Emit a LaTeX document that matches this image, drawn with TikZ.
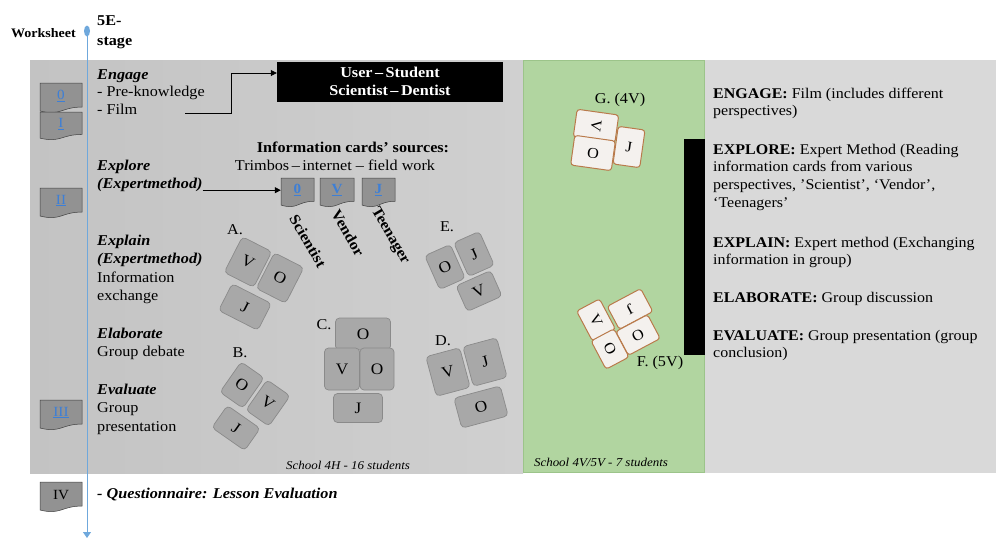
\documentclass[tikz,border=0pt]{standalone}
\usepackage{fontspec}
\usepackage{graphicx}
\setmainfont{Liberation Serif}[FakeStretch=1.08]
\usetikzlibrary{arrows.meta,calc}
\definecolor{leftgrayA}{HTML}{C3C3C3}
\definecolor{leftgrayB}{HTML}{D0D0D0}
\definecolor{rightgray}{HTML}{D9D9D9}
\definecolor{greenbg}{HTML}{B1D5A0}
\definecolor{greenedge}{HTML}{9CC48A}
\definecolor{cardgray}{HTML}{A8A8A8}
\definecolor{cardedge}{HTML}{8A8A8A}
\definecolor{docgray}{HTML}{929292}
\definecolor{linkblue}{HTML}{3D7FD6}
\definecolor{timeline}{HTML}{6FA8DC}
\definecolor{cardwhite}{HTML}{F4F1EE}
\definecolor{cardbrown}{HTML}{B97A4B}
\newcommand\docnode[6]{%
  \draw[docsty] (#2,#3) -- ({#2+#4},#3) -- ({#2+#4},{#3+0.802*#5})
    .. controls ({#2+0.5*#4},{#3+0.802*#5}) and ({#2+0.5*#4},{#3+1.107*#5}) .. (#2,{#3+0.934*#5}) -- cycle;
  \node[doctext, minimum width=#4, minimum height={0.8*#5}] (#1) at ({#2+0.5*#4},{#3+0.42*#5}) {#6};
}
\newcommand\lnk[1]{\textcolor{linkblue}{\underline{#1}}}
\tikzset{
  docsty/.style={fill=docgray, draw=black!75, line width=0.5pt},
  doctext/.style={inner sep=0, font=\fontsize{14}{14}\selectfont},
  txt/.style={anchor=base west, inner sep=0, align=left, font=\fontsize{15}{18.5}\selectfont},
  rtxt/.style={anchor=base west, inner sep=0, align=left, font=\fontsize{14.8}{17.7}\selectfont},
  gcard/.style={draw=cardedge, fill=cardgray, rounded corners=4pt, line width=0.7pt, inner sep=0, font=\fontsize{16}{16}\selectfont},
  wcard/.style={draw=cardbrown, fill=cardwhite, rounded corners=3pt, line width=1pt, inner sep=0, font=\fontsize{15}{15}\selectfont},
  sqA/.style={minimum width=33, minimum height=40},
  wdA/.style={minimum width=44, minimum height=30},
  grplabel/.style={inner sep=0, font=\fontsize{15}{15}\selectfont},
  arr/.style={-{Triangle[width=6pt,length=6pt]}, line width=0.8pt},
  persp/.style={inner sep=0, rotate=-60, font=\fontsize{15}{15}\selectfont\bfseries},
  schooltxt/.style={inner sep=0, font=\fontsize{12}{12}\selectfont\itshape}
}
\begin{document}
\begin{tikzpicture}[x=1pt,y=-1pt]
\useasboundingbox (0,0) rectangle (996,539);
% panels
\shade[left color=leftgrayA, right color=leftgrayB] (30,60) rectangle (523,473);
\fill[greenbg] (523,60) rectangle (705,473);
\draw[greenedge, line width=0.8pt] (523.5,60.5) rectangle (704.5,472.5);
\fill[rightgray] (705,60) rectangle (996,473);
\fill[black] (684,139) rectangle (705,355);
% timeline
\fill[timeline] (87,31) ellipse (3 and 5.5);
\coordinate (tltop) at (87,31);
\coordinate (tlbot) at (87,538);
\draw[timeline, line width=1pt, -{Triangle[width=8pt,length=6pt]}] (tltop) -- (tlbot);
% header
\node[anchor=east, inner sep=0, font=\fontsize{13}{13}\selectfont\bfseries] (ws) at (76,33) {Worksheet};
\node[txt, font=\fontsize{15}{20}\selectfont\bfseries] (stage) at (97,45) {5E-\\stage};
% worksheet docs
\docnode{d0}{40}{83}{42}{30}{\lnk{0}}
\docnode{d1}{40}{112}{42}{28}{\lnk{I}}
\docnode{d2}{40}{188}{42}{30}{\lnk{II}}
\docnode{d3}{40}{400}{42}{30}{\lnk{III}}
\docnode{d4}{40}{482}{42}{30}{IV}
% left texts (base = last line)
\node[txt, font=\fontsize{15}{17.5}\selectfont] (engage) at (97,114) {\textbf{\textit{Engage}}\\- Pre-knowledge\\- Film};
\node[txt] (explore) at (97,188.5) {\textbf{\textit{Explore}}\\\textbf{\textit{(Expertmethod)}}};
\node[txt] (explain) at (97,300.5) {\textbf{\textit{Explain}}\\\textbf{\textit{(Expertmethod)}}\\Information\\exchange};
\node[txt] (elab) at (97,356.5) {\textbf{\textit{Elaborate}}\\Group debate};
\node[txt] (evalu) at (97,431) {\textbf{\textit{Evaluate}}\\Group\\presentation};
\node[txt] (quest) at (97,498) {\textbf{\textit{- Questionnaire: Lesson Evaluation}}};
% black box
\node[fill=black, text=white, minimum width=226, minimum height=40, inner sep=0, align=center, font=\fontsize{15}{18}\selectfont\bfseries] (box) at (390,81.5) {User\,--\,Student\\Scientist\,--\,Dentist};
\coordinate (filmstart) at (185,113);
\coordinate (bend) at (231,73);
\draw[arr] (filmstart) -| (bend) -- (bend -| box.west);
% information cards
\node[inner sep=0, font=\fontsize{15}{15}\selectfont\bfseries] (infot) at (353,147) {Information cards’ sources:};
\node[inner sep=0, font=\fontsize{15}{15}\selectfont] (infos) at (335,165) {Trimbos\,--\,internet -- field work};
\docnode{s0}{281}{178}{33}{29}{\lnk{\textbf{0}}}
\docnode{s1}{320}{178}{34}{29}{\lnk{\textbf{V}}}
\docnode{s2}{362}{178}{33}{29}{\lnk{\textbf{J}}}
\draw[arr] (explore.east |- s0.west) -- (s0.west);
\node[persp] (pS) at (308,241) {Scientist};
\node[persp] (pV) at (348,233) {Vendor};
\node[persp] (pT) at (390,236) {Teenager};
% group A
\node[grplabel] (lA) at (235,230) {A.};
\node[gcard, sqA, rotate=-27] (a1) at (248,262) {V};
\node[gcard, sqA, rotate=-27] (a2) at (280,278) {O};
\node[gcard, wdA, rotate=-27] (a3) at (245,307) {J};
% group B
\node[grplabel] (lB) at (240,353) {B.};
\node[gcard, minimum width=28, minimum height=37, rotate=-35] (b1) at (242,385) {O};
\node[gcard, minimum width=28, minimum height=37, rotate=-35] (b2) at (268,403) {V};
\node[gcard, minimum width=40, minimum height=27, rotate=-35] (b3) at (236,428) {J};
% group C
\node[grplabel] (lC) at (324,325) {C.};
\node[gcard, minimum width=55, minimum height=32] (c1) at (363,334) {O};
\node[gcard, minimum width=35, minimum height=42] (c2) at (342,369) {V};
\node[gcard, minimum width=34, minimum height=42] (c3) at (377,369) {O};
\node[gcard, minimum width=49, minimum height=29] (c4) at (358,408) {J};
% group D
\node[grplabel] (lD) at (443,341) {D.};
\node[gcard, minimum width=35, minimum height=41, rotate=15] (e1) at (448,372) {V};
\node[gcard, minimum width=35, minimum height=41, rotate=15] (e2) at (485,362) {J};
\node[gcard, minimum width=48, minimum height=31, rotate=15] (e3) at (481,407) {O};
% group E
\node[grplabel] (lE) at (447,227) {E.};
\node[gcard, minimum width=28, minimum height=37, rotate=24] (f1) at (445,267) {O};
\node[gcard, minimum width=28, minimum height=37, rotate=24] (f2) at (474,254) {J};
\node[gcard, minimum width=38, minimum height=28, rotate=24] (f3) at (479,291) {V};
\node[schooltxt] (sch1) at (348,465) {School 4H - 16 students};
% green groups
\node[grplabel] (lG) at (620,100) {G. (4V)};
\node[wcard, minimum width=42, minimum height=28, rotate=-8] (g1) at (596,126) {\rotatebox{-90}{V}};
\node[wcard, minimum width=41, minimum height=30, rotate=-8] (g2) at (593,153) {O};
\node[wcard, minimum width=27, minimum height=38, rotate=-8] (g3) at (629,147) {J};
\node[wcard, minimum width=26, minimum height=34, rotate=28] (h1) at (596,320) {\rotatebox{-90}{V}};
\node[wcard, minimum width=38, minimum height=26, rotate=28] (h2) at (630,309) {\rotatebox{180}{J}};
\node[wcard, minimum width=36, minimum height=27, rotate=28] (h3) at (638,335) {O};
\node[wcard, minimum width=26, minimum height=32, rotate=28] (h4) at (610,349) {\rotatebox{90}{O}};
\node[grplabel] (lF) at (660,363) {F. (5V)};
\node[schooltxt] (sch2) at (601,462) {School 4V/5V - 7 students};
% right panel (base = last line)
\node[rtxt] (rEng) at (713,115.7) {\textbf{ENGAGE:} Film (includes different\\perspectives)};
\node[rtxt] (rExp) at (713,207.1) {\textbf{EXPLORE:} Expert Method (Reading\\information cards from various\\perspectives, ’Scientist’, ‘Vendor’,\\‘Teenagers’};
\node[rtxt] (rExl) at (713,264.7) {\textbf{EXPLAIN:} Expert method (Exchanging\\information in group)};
\node[rtxt] (rEla) at (713,302) {\textbf{ELABORATE:} Group discussion};
\node[rtxt] (rEva) at (713,357.7) {\textbf{EVALUATE:} Group presentation (group\\conclusion)};
\end{tikzpicture}
\end{document}
